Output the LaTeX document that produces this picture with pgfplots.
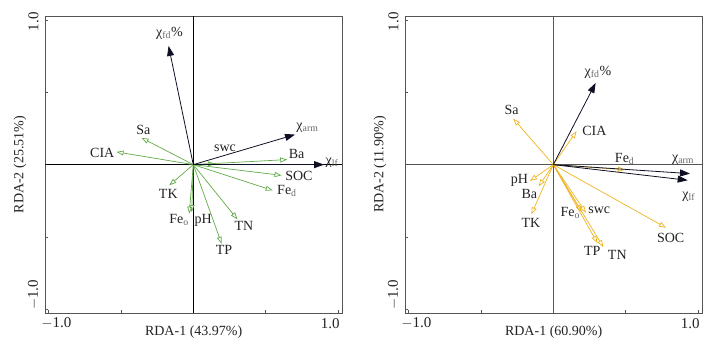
\documentclass[border=0pt]{standalone}
\usepackage{fontspec}
\setmainfont{Liberation Serif}
\usepackage{pgfplots}
\pgfplotsset{compat=1.18}
\usetikzlibrary{arrows.meta}
\definecolor{gcol}{RGB}{98,170,72}
\definecolor{ycol}{RGB}{238,180,34}
\definecolor{bcol}{RGB}{15,15,35}
\definecolor{fcol}{RGB}{85,85,85}
\definecolor{tcol}{RGB}{35,35,35}
\newcommand{\lab}{\fontsize{14}{16}\selectfont}
\newcommand{\sub}[1]{\textsubscript{\color{black!60}#1}}
\pgfplotsset{rdastyle/.style={
  width=296.7pt, height=297.3pt, scale only axis, clip mode=individual,
  xmin=-1.024, xmax=1.029, ymin=-1.028, ymax=1.028,
  xtick={-1,-0.5,0,0.5,1}, ytick={-1,-0.5,0,0.5,1},
  xticklabels={}, yticklabels={},
  xtick pos=lower, ytick pos=left, tick align=inside, major tick length=3pt,
  axis line style={fcol, line width=0.8pt},
  tick style={fcol, line width=0.6pt},
  label style={font=\lab, text=tcol},
  xlabel style={at={(axis description cs:0.5,-0.063)}, anchor=center},
  ylabel style={at={(axis description cs:-0.085,0.5)}, anchor=center},
}}
\tikzset{
  lbl/.style={font=\lab, text=tcol, inner sep=1pt},
  tl/.style={font=\fontsize{15}{17}\selectfont, text=tcol, inner sep=0pt},
  garr/.style={gcol, line width=0.7pt, -{Triangle[open,length=7pt,width=5pt]}},
  yarr/.style={ycol, line width=0.7pt, -{Triangle[open,length=7pt,width=5pt]}},
  barr/.style={bcol, line width=0.8pt, -{Triangle[length=10pt,width=7pt]}},
}
\begin{document}
\begin{tikzpicture}
\useasboundingbox (0,0) rectangle (725pt,342pt);
% ---------------- left panel ----------------
\begin{axis}[rdastyle, at={(45.3pt,28.7pt)}, anchor=south west,
  xlabel={RDA-1 (43.97\%)}, ylabel={RDA-2 (25.51\%)}]
\addplot[black, line width=0.8pt] coordinates {(0,-1.028) (0,1.028)};
\addplot[black, line width=0.8pt] coordinates {(-1.024,0) (1.029,0)};
\addplot[garr] coordinates {(0,0) (-0.531,0.088)};
\addplot[garr] coordinates {(0,0) (-0.358,0.185)};
\addplot[garr] coordinates {(0,0) (0.150,0.007)};
\addplot[garr] coordinates {(0,0) (0.650,0.035)};
\addplot[garr] coordinates {(0,0) (0.611,-0.074)};
\addplot[garr] coordinates {(0,0) (0.549,-0.178)};
\addplot[garr] coordinates {(0,0) (-0.166,-0.143)};
\addplot[garr] coordinates {(0,0) (-0.028,-0.339)};
\addplot[garr] coordinates {(0,0) (-0.011,-0.328)};
\addplot[garr] coordinates {(0,0) (0.305,-0.378)};
\addplot[garr] coordinates {(0,0) (0.196,-0.547)};
\addplot[barr] coordinates {(0,0) (-0.171,0.821)};
\addplot[barr] coordinates {(0,0) (0.704,0.208)};
\addplot[barr] coordinates {(0,0) (0.905,0.0)};
\node[tl] at (rel axis cs:0.037,-0.034) {$-$1.0};
\node[tl] at (rel axis cs:0.960,-0.034) {1.0};
\node[tl, rotate=90] at (rel axis cs:-0.040,0.981) {1.0};
\node[tl, rotate=90] at (rel axis cs:-0.040,0.062) {$-$1.0};
\node[lbl] at (axis cs:-0.165,0.907) {χ\sub{fd}\%};
\node[lbl] at (axis cs:0.790,0.254) {χ\sub{arm}};
\node[lbl] at (axis cs:0.960,0.012) {χ\sub{lf}};
\node[lbl] at (axis cs:-0.630,0.081) {CIA};
\node[lbl] at (axis cs:-0.346,0.238) {Sa};
\node[lbl] at (axis cs:0.219,0.111) {swc};
\node[lbl] at (axis cs:0.715,0.076) {Ba};
\node[lbl] at (axis cs:0.731,-0.081) {SOC};
\node[lbl] at (axis cs:0.648,-0.182) {Fe\sub{d}};
\node[lbl] at (axis cs:-0.173,-0.205) {TK};
\node[lbl] at (axis cs:-0.098,-0.385) {Fe\sub{o}};
\node[lbl] at (axis cs:0.069,-0.385) {pH};
\node[lbl] at (axis cs:0.351,-0.427) {TN};
\node[lbl] at (axis cs:0.212,-0.593) {TP};
\end{axis}
% ---------------- right panel ----------------
\begin{axis}[rdastyle, at={(405.3pt,28.7pt)}, anchor=south west,
  xlabel={RDA-1 (60.90\%)}, ylabel={RDA-2 (11.90\%)}]
\addplot[fcol, line width=0.8pt] coordinates {(0,-1.028) (0,1.028)};
\addplot[fcol, line width=0.8pt] coordinates {(-1.024,0) (1.029,0)};
\addplot[yarr] coordinates {(0,0) (-0.277,0.318)};
\addplot[yarr] coordinates {(0,0) (0.161,0.231)};
\addplot[yarr] coordinates {(0,0) (0.496,-0.035)};
\addplot[yarr] coordinates {(0,0) (-0.161,-0.113)};
\addplot[yarr] coordinates {(0,0) (-0.101,-0.150)};
\addplot[yarr] coordinates {(0,0) (-0.152,-0.344)};
\addplot[yarr] coordinates {(0,0) (0.196,-0.328)};
\addplot[yarr] coordinates {(0,0) (0.226,-0.332)};
\addplot[yarr] coordinates {(0,0) (0.305,-0.542)};
\addplot[yarr] coordinates {(0,0) (0.346,-0.570)};
\addplot[yarr] coordinates {(0,0) (0.780,-0.436)};
\addplot[barr] coordinates {(0,0) (0.293,0.565)};
\addplot[barr] coordinates {(0,0) (0.946,-0.062)};
\addplot[barr] coordinates {(0,0) (0.930,-0.108)};
\node[tl] at (rel axis cs:0.037,-0.034) {$-$1.0};
\node[tl] at (rel axis cs:0.960,-0.034) {1.0};
\node[tl, rotate=90] at (rel axis cs:-0.040,0.981) {1.0};
\node[tl, rotate=90] at (rel axis cs:-0.040,0.062) {$-$1.0};
\node[lbl] at (axis cs:0.309,0.641) {χ\sub{fd}\%};
\node[lbl] at (axis cs:0.898,0.037) {χ\sub{arm}};
\node[lbl] at (axis cs:0.937,-0.224) {χ\sub{lf}};
\node[lbl] at (axis cs:-0.288,0.381) {Sa};
\node[lbl] at (axis cs:0.284,0.231) {CIA};
\node[lbl] at (axis cs:0.494,0.042) {Fe\sub{d}};
\node[lbl] at (axis cs:-0.235,-0.108) {pH};
\node[lbl] at (axis cs:-0.166,-0.205) {Ba};
\node[lbl] at (axis cs:-0.155,-0.404) {TK};
\node[lbl] at (axis cs:0.118,-0.334) {Fe\sub{o}};
\node[lbl] at (axis cs:0.318,-0.316) {swc};
\node[lbl] at (axis cs:0.270,-0.597) {TP};
\node[lbl] at (axis cs:0.443,-0.627) {TN};
\node[lbl] at (axis cs:0.812,-0.507) {SOC};
\end{axis}
\end{tikzpicture}
\end{document}
